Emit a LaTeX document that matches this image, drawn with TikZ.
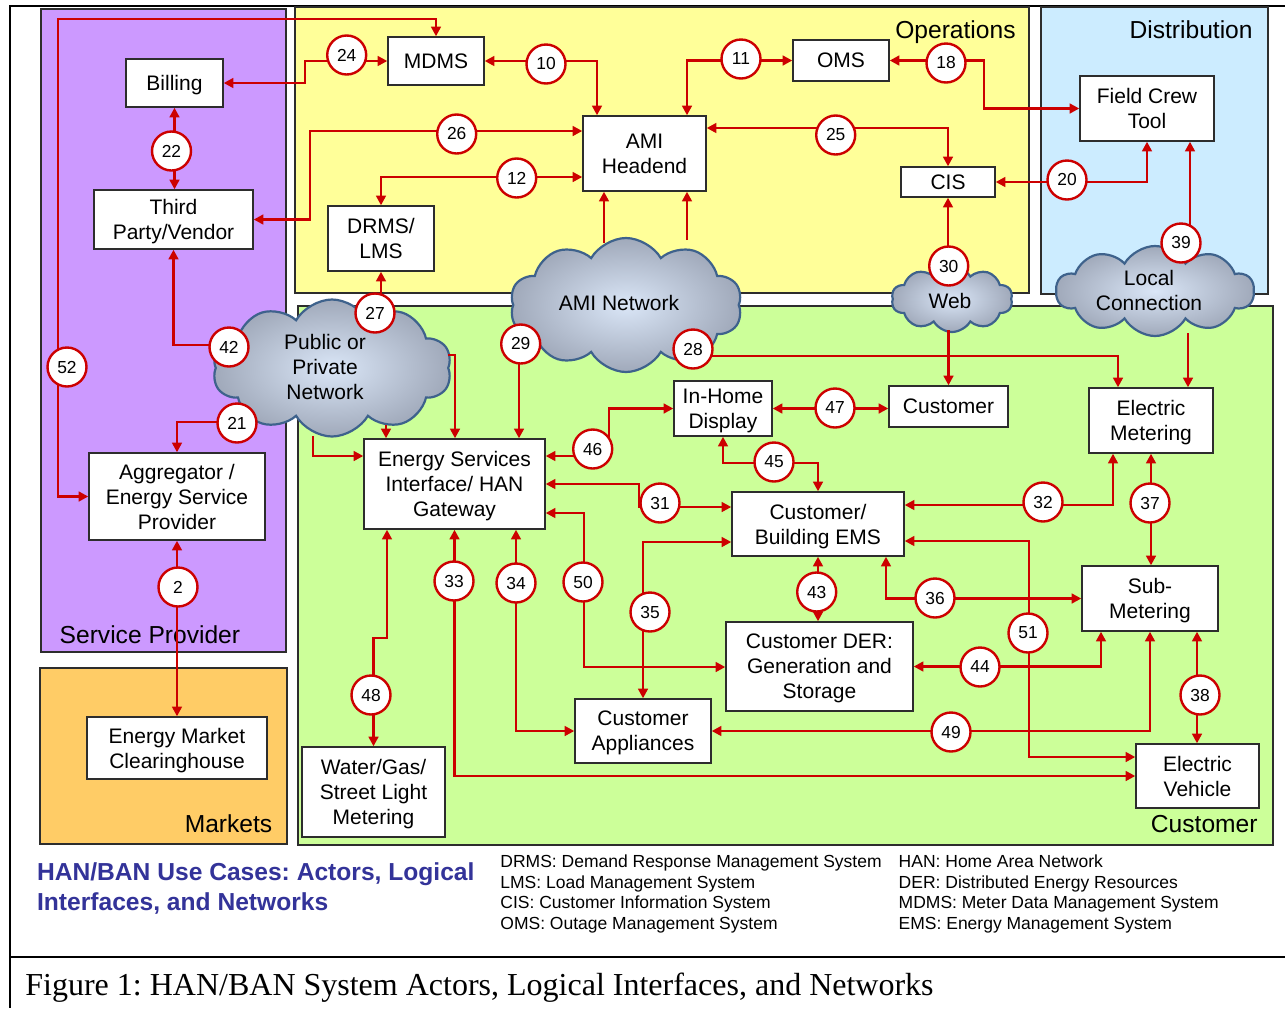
\documentclass[tikz,border=0pt]{standalone}
\usepackage{fontspec}
\setmainfont{Liberation Sans}
\newfontfamily\capfont{Liberation Serif}
\usetikzlibrary{arrows.meta,shapes.symbols}
\frenchspacing
\definecolor{cred}{RGB}{204,0,0}
\definecolor{cpurple}{RGB}{204,153,255}
\definecolor{cyellow}{RGB}{255,255,153}
\definecolor{cblue}{RGB}{204,236,255}
\definecolor{cgreen}{RGB}{204,255,153}
\definecolor{corange}{RGB}{255,204,102}
\definecolor{ctitle}{RGB}{51,51,153}
\definecolor{cedge}{RGB}{45,45,45}
\definecolor{cloudedge}{RGB}{62,98,140}
\definecolor{clouddark}{RGB}{160,169,186}
\definecolor{cloudlight}{RGB}{218,230,247}
\begin{document}
\begin{tikzpicture}[x=0.5pt,y=-0.5pt,
  group/.style={draw=cedge,line width=0.9pt},
  grouplabel/.style={inner sep=0pt,font=\fontsize{12.3}{14}\selectfont},
  box/.style={draw=cedge,line width=0.7pt,fill=white,inner sep=0pt,align=center,
    text depth=0pt,font=\fontsize{10.5}{12.5}\selectfont},
  circ/.style={circle,draw=cred,line width=1.2pt,fill=white,minimum size=19.5pt,
    inner sep=0pt,font=\fontsize{8.7}{10}\selectfont},
  conn/.style={draw=cred,line width=1.2pt,
    {Triangle[length=4.8pt,width=4.8pt]}-{Triangle[length=4.8pt,width=4.8pt]}},
  oneway/.style={draw=cred,line width=1.2pt,-{Triangle[length=4.8pt,width=4.8pt]}},
  cloudsty/.style={cloud,cloud puffs=10,cloud puff arc=120,draw=cloudedge,line width=1.1pt,
    inner sep=0pt,inner color=cloudlight,outer color=clouddark},
  cloudtext/.style={inner sep=0pt,align=center,font=\fontsize{10.5}{12.5}\selectfont},
  legend/.style={inner sep=0pt,anchor=base west,font=\fontsize{8.75}{10.4}\selectfont},
  titletext/.style={inner sep=0pt,anchor=base west,text=ctitle,
    font=\fontsize{12.3}{15}\selectfont\bfseries}]
\useasboundingbox (0,0) rectangle (1285,1008);
\fill[white] (0,0) rectangle (1285,1008);
% frame
\draw[line width=1pt] (1285,6) -- (10,6) -- (10,1008);
\draw[line width=1pt] (10,957) -- (1285,957);
% groups
\draw[group,fill=cpurple] (41,9) rectangle (286,652);
\draw[group,fill=corange] (40,668) rectangle (287,844);
\draw[group,fill=cyellow] (295,7) rectangle (1029,293);
\draw[group,fill=cblue] (1041,7) rectangle (1268,294);
\draw[group,fill=cgreen] (298,306) rectangle (1273,845);
\node[grouplabel,anchor=base east] (lops) at (1016,38.3) {Operations};
\node[grouplabel,anchor=base east] (ldist) at (1253,38.3) {Distribution};
\node[grouplabel,anchor=base west] (lsp) at (59.3,643) {Service Provider};
\node[grouplabel,anchor=base east] (lmkt) at (272.7,832) {Markets};
\node[grouplabel,anchor=base east] (lcust) at (1258,832) {Customer};
% boxes
\node[box,minimum width=48.5pt,minimum height=24pt] (billing) at (174.5,83) {Billing};
\node[box,minimum width=79.5pt,minimum height=29.5pt] (third) at (173.5,219.5) {Third\\Party/Vendor};
\node[box,minimum width=48pt,minimum height=24pt] (mdms) at (436,61) {MDMS};
\node[box,minimum width=53pt,minimum height=32.5pt] (drms) at (381,238.5) {DRMS/\\LMS};
\node[box,minimum width=61.5pt,minimum height=37.5pt] (ami) at (644.5,153.5) {AMI\\Headend};
\node[box,minimum width=48pt,minimum height=20.5pt] (oms) at (841,60.5) {OMS};
\node[box,minimum width=47pt,minimum height=15pt] (cis) at (948,182) {CIS};
\node[box,minimum width=67pt,minimum height=32.5pt] (fct) at (1147,108.5) {Field Crew\\Tool};
\node[box,minimum width=88pt,minimum height=43.5pt] (agg) at (177,496.5) {Aggregator /\\Energy Service\\Provider};
\node[box,minimum width=90pt,minimum height=31pt] (emc) at (177,748) {Energy Market\\Clearinghouse};
\node[box,minimum width=71.5pt,minimum height=45pt] (water) at (373.5,792) {Water/Gas/\\Street Light\\Metering};
\node[box,minimum width=90.5pt,minimum height=45pt] (esi) at (454.5,484) {Energy Services\\Interface/ HAN\\Gateway};
\node[box,minimum width=49pt,minimum height=27.5pt] (ihd) at (723,408.5) {In-Home\\Display};
\node[box,minimum width=59.5pt,minimum height=20.5pt] (cust) at (948.5,406.5) {Customer};
\node[box,minimum width=62pt,minimum height=32.5pt] (em) at (1151,420.5) {Electric\\Metering};
\node[box,minimum width=86pt,minimum height=32pt] (ems) at (818,524) {Customer/\\Building EMS};
\node[box,minimum width=68pt,minimum height=32.5pt] (sub) at (1150,598.5) {Sub-\\Metering};
\node[box,minimum width=93.5pt,minimum height=44.5pt] (der) at (819.5,666.5) {Customer DER:\\Generation and\\Storage};
\node[box,minimum width=68pt,minimum height=32pt] (app) at (643,731) {Customer\\Appliances};
\node[box,minimum width=61.5pt,minimum height=32pt] (ev) at (1197.5,776) {Electric\\Vehicle};
% clouds
\node[cloudsty,minimum width=119.5pt,minimum height=68.5pt] (pub) at (332,368) {};
\node[cloudsty,minimum width=116pt,minimum height=67pt] (amin) at (626,305) {};
\node[cloudsty,minimum width=60.5pt,minimum height=33pt] (web) at (952,299) {};
\node[cloudsty,minimum width=99pt,minimum height=45pt] (local) at (1155,291) {};
\node[cloudtext] (pubt) at (325,367) {Public or\\Private\\Network};
\node[cloudtext] (amint) at (619,303) {AMI Network};
\node[cloudtext] (webt) at (950,301) {Web};
\node[cloudtext] (localt) at (1149,290) {Local\\Connection};
% connectors
\draw[conn] (agg.west) -| (58,19) -| (mdms.north); % 52
\draw[conn] (billing.east) -| (305,61) -- (mdms.west); % 24
\draw[conn] (billing.south) -- (billing.south |- third.north); % 22
\draw[conn] (third.east) -| (310,131) -- (ami.west |- 0,131); % 26
\draw[conn] (drms.north) |- (ami.west |- 0,177); % 12
\draw[conn] (mdms.east) -| (ami.north -| 597,0); % 10
\draw[conn] (ami.north -| 687,0) |- (oms.west); % 11
\draw[conn] (ami.east |- 0,128) -| (cis.north); % 25
\draw[conn] (oms.east) -| (984,108.5) -- (fct.west); % 18
\draw[conn] (cis.east) -| (fct.south); % 20
\draw[oneway] (cis.south |- 0,266) -- (cis.south); % 30
\draw[oneway] (1190,243) -- (fct.south -| 1190,0); % 39
\draw[oneway] (1188,333) -- (em.north -| 1188,0);
\draw[oneway] (cust.north |- 0,330) -- (cust.north);
\draw[oneway] (693,356) -| (em.north -| 1118,0); % 28
\draw[oneway] (519,344) -- (esi.north -| 519,0); % 29
\draw[oneway] (604,243) -- (ami.south -| 604,0);
\draw[oneway] (687,240) -- (ami.south -| 687,0);
\draw[oneway] (drms.south |- 0,313) -- (drms.south); % 27
\draw[oneway] (229,345) -| (third.south); % 42
\draw[oneway] (237,422) -| (agg.north); % 21
\draw[oneway] (313,436) |- (esi.west |- 0,456);
\draw[oneway] (386,425) -- (esi.north -| 386,0);
\draw[oneway] (448,355) -| (esi.north -| 455,0);
\draw[conn] (agg.south) -- (emc.north); % 2
\draw[conn] (esi.east |- 0,456) -| (609,408.5) -- (ihd.west); % 46
\draw[conn] (ihd.east) -- (cust.west |- ihd.east); % 47
\draw[conn] (ihd.south) |- (818,463) -- (ems.north); % 45
\draw[conn] (esi.east |- 0,484) -| (639,507) -- (ems.west |- 0,507); % 31
\draw[conn] (ems.east |- 0,505) -| (em.south -| 1113,0); % 32
\draw[conn] (em.south) -- (em.south |- sub.north); % 37
\draw[conn] (esi.east |- 0,513) -| (584,667) -- (der.west |- 0,667); % 50
\draw[conn] (esi.south) |- (ev.west |- 0,776); % 33
\draw[conn] (esi.south -| 516,0) |- (app.west); % 34
\draw[conn] (ems.west |- 0,542) -| (app.north); % 35
\draw[conn] (ems.south) -- (ems.south |- der.north); % 43
\draw[conn] (ems.south -| 886,0) |- (sub.west); % 36
\draw[conn] (ems.east |- 0,541) -| (1029,757) -- (ev.west |- 0,757); % 51
\draw[conn] (der.east) -| (sub.south -| 1101,0); % 44
\draw[conn] (app.east) -| (sub.south); % 49
\draw[conn] (sub.south -| 1197,0) -- (ev.north -| 1197,0); % 38
\draw[conn] (esi.south -| 387,0) |- (373.5,638) -- (water.north); % 48
% interface circles
\node[circ] (c24) at (346.7,55) {24};
\node[circ] (c22) at (171.5,151) {22};
\node[circ] (c27) at (375,313) {27};
\node[circ] (c42) at (229,347) {42};
\node[circ] (c52) at (67,367) {52};
\node[circ] (c21) at (237,423) {21};
\node[circ] (c2) at (178,587) {2};
\node[circ] (c10) at (546,64) {10};
\node[circ] (c11) at (741,59) {11};
\node[circ] (c26) at (456.7,134) {26};
\node[circ] (c12) at (516.7,178) {12};
\node[circ] (c25) at (835.7,135) {25};
\node[circ] (c18) at (946,63) {18};
\node[circ] (c20) at (1067,180) {20};
\node[circ] (c30) at (948.7,266) {30};
\node[circ] (c39) at (1181,243) {39};
\node[circ] (c29) at (520.7,344) {29};
\node[circ] (c28) at (693,349) {28};
\node[circ] (c46) at (592.7,449) {46};
\node[circ] (c47) at (835,408) {47};
\node[circ] (c45) at (774,462) {45};
\node[circ] (c31) at (660,503) {31};
\node[circ] (c33) at (454,581) {33};
\node[circ] (c34) at (516,583) {34};
\node[circ] (c50) at (583,582) {50};
\node[circ] (c35) at (650,612) {35};
\node[circ] (c43) at (816.7,592) {43};
\node[circ] (c32) at (1043,502) {32};
\node[circ] (c37) at (1150,503) {37};
\node[circ] (c36) at (935,598) {36};
\node[circ] (c51) at (1028,633) {51};
\node[circ] (c44) at (980,667) {44};
\node[circ] (c49) at (951,732) {49};
\node[circ] (c38) at (1200,695) {38};
\node[circ] (c48) at (371,695) {48};
% title and legend
\node[titletext] (t1) at (36.7,880) {HAN/BAN Use Cases: Actors, Logical};
\node[titletext] (t2) at (36.7,910) {Interfaces, and Networks};
\node[legend] (l1) at (500,867.3) {DRMS: Demand Response Management System};
\node[legend] (l2) at (500,888) {LMS: Load Management System};
\node[legend] (l3) at (500,908.7) {CIS: Customer Information System};
\node[legend] (l4) at (500,929.4) {OMS: Outage Management System};
\node[legend] (r1) at (898.3,867.3) {HAN: Home Area Network};
\node[legend] (r2) at (898.3,888) {DER: Distributed Energy Resources};
\node[legend] (r3) at (898.3,908.7) {MDMS: Meter Data Management System};
\node[legend] (r4) at (898.3,929.4) {EMS: Energy Management System};
\node[inner sep=0pt,anchor=base west,font=\capfont\fontsize{16}{18}\selectfont] (cap) at (25,995) {Figure 1: HAN/BAN System Actors, Logical Interfaces, and Networks};
\end{tikzpicture}
\end{document}
